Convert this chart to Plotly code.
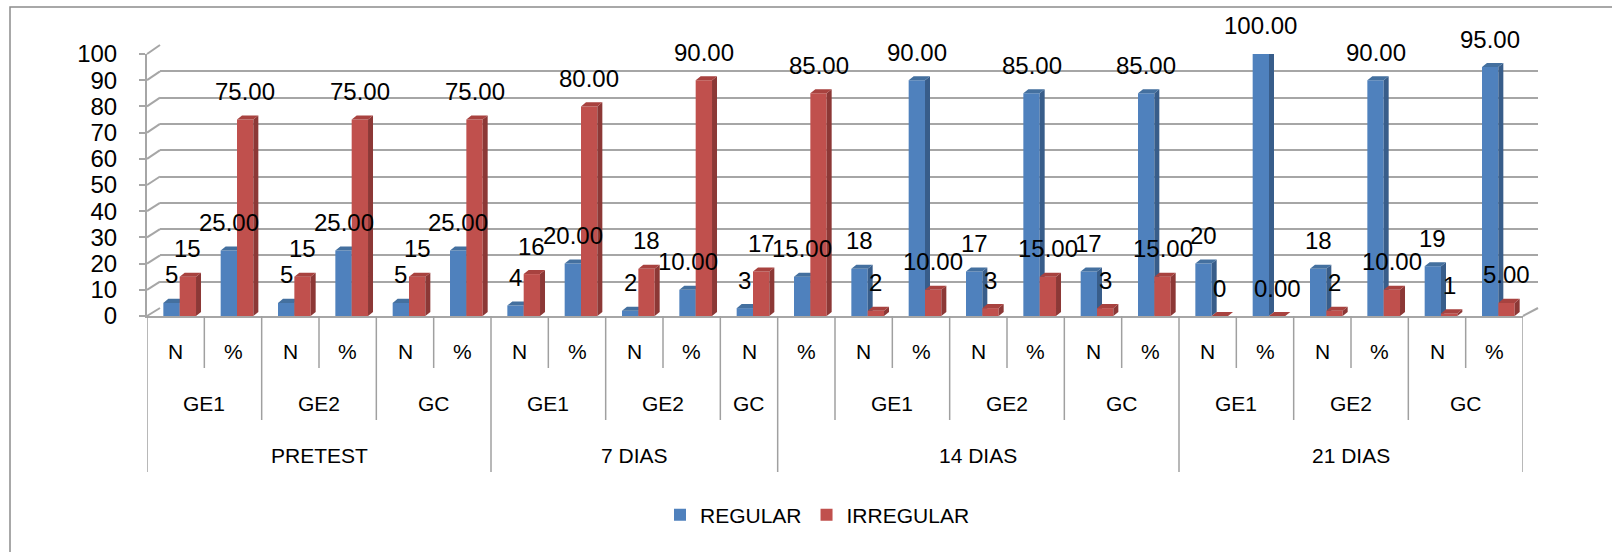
import plotly.graph_objects as go

# ---- data -------------------------------------------------------------
periods = ["PRETEST"] * 6 + ["7 DIAS"] * 5 + ["14 DIAS"] * 7 + ["21 DIAS"] * 6
groups = ["GE1", "GE1", "GE2", "GE2", "GC", "GC",
          "GE1", "GE1", "GE2", "GE2", "GC",
          "", "GE1", "GE1", "GE2", "GE2", "GC", "GC",
          "GE1", "GE1", "GE2", "GE2", "GC", "GC"]
measures = ["N", "%", "N", "%", "N", "%",
            "N", "%", "N", "%", "N",
            "%", "N", "%", "N", "%", "N", "%",
            "N", "%", "N", "%", "N", "%"]
regular = [5, 25, 5, 25, 5, 25,
           4, 20, 2, 10, 3,
           15, 18, 90, 17, 85, 17, 85,
           20, 100, 18, 90, 19, 95]
irregular = [15, 75, 15, 75, 15, 75,
             16, 80, 18, 90, 17,
             85, 2, 10, 3, 15, 3, 15,
             0, 0, 2, 10, 1, 5]
y_ticks = list(range(0, 101, 10))

# ---- geometry / style -------------------------------------------------
W, H = 1612, 552
FONT = "Liberation Sans"
GRID = "#a6a6a6"
LINE = "#a0a0a0"

BLUE, BLUE_SIDE, BLUE_TOP = "#4f81bd", "#385d8a", "#44709f"
RED, RED_SIDE, RED_TOP = "#c0504d", "#8c3836", "#a8423f"

BAR_W = 0.285
OFF_BLUE = -0.215
OFF_RED = OFF_BLUE + BAR_W
DEPTH_X = 0.087      # category units
DEPTH_Y = 1.55       # value units


def fx(px):
    return px / W


def fy(px):
    return 1 - px / H


# front (bars) and back wall (grid) domains
front_x = [fx(147), fx(1523)]
front_y = [fy(316), fy(54)]
back_x = [fx(160), fx(1538)]
back_y = [fy(308), fy(45)]

idx = list(range(len(measures)))


def label_text(v, m):
    return f"{v:.2f}" if m == "%" else f"{v:d}"


def side_faces(vals, off):
    xs, ys = [], []
    for i, v in enumerate(vals):
        xr = i + off + BAR_W
        xs += [xr, xr + DEPTH_X, xr + DEPTH_X, xr, xr, None]
        ys += [0, DEPTH_Y, v + DEPTH_Y, v, 0, None]
    return xs, ys


def top_faces(vals, off):
    xs, ys = [], []
    for i, v in enumerate(vals):
        xl = i + off
        xr = xl + BAR_W
        xs += [xl, xr, xr + DEPTH_X, xl + DEPTH_X, xl, None]
        ys += [v, v, v + DEPTH_Y, v + DEPTH_Y, v, None]
    return xs, ys


def face(xs, ys, color, yaxis):
    return go.Scatter(x=xs, y=ys, xaxis="x2", yaxis=yaxis, mode="lines",
                      fill="toself", fillcolor=color, line=dict(width=0),
                      hoverinfo="skip", showlegend=False)


fig = go.Figure()

# back wall holder (grid only)
fig.add_trace(go.Scatter(x=[0.5], y=[50], xaxis="x", yaxis="y", mode="markers",
                         marker=dict(opacity=0), hoverinfo="skip", showlegend=False))

# REGULAR prisms
fig.add_trace(go.Bar(x=idx, y=regular, xaxis="x2", yaxis="y2", name="REGULAR",
                     width=BAR_W, offset=OFF_BLUE,
                     marker=dict(color=BLUE, line=dict(width=0))))
fig.add_trace(face(*side_faces(regular, OFF_BLUE), BLUE_SIDE, "y2"))
fig.add_trace(face(*top_faces(regular, OFF_BLUE), BLUE_TOP, "y2"))

# IRREGULAR prisms (overlaid so they sit in front of the REGULAR ones)
fig.add_trace(go.Bar(x=idx, y=irregular, xaxis="x2", yaxis="y3", name="IRREGULAR",
                     width=BAR_W, offset=OFF_RED,
                     marker=dict(color=RED, line=dict(width=0))))
fig.add_trace(face(*side_faces(irregular, OFF_RED), RED_SIDE, "y3"))
fig.add_trace(face(*top_faces(irregular, OFF_RED), RED_TOP, "y3"))

annotations = []

# data labels
for i in idx:
    for vals, off in ((regular, OFF_BLUE), (irregular, OFF_RED)):
        annotations.append(dict(
            x=i + off + BAR_W / 2, y=vals[i], xref="x2", yref="y2",
            text=label_text(vals[i], measures[i]), showarrow=False,
            yshift=28, yanchor="middle", xanchor="center",
            font=dict(family=FONT, size=24, color="#000000")))

# category table: measure row
for i, m in enumerate(measures):
    annotations.append(dict(x=i, y=fy(351), xref="x2", yref="paper", text=m,
                            showarrow=False, yanchor="middle",
                            font=dict(family=FONT, size=21, color="#000000")))


def spans(keys):
    out = []
    start = 0
    for i in range(1, len(keys) + 1):
        if i == len(keys) or keys[i] != keys[start]:
            out.append((start, i - 1))
            start = i
    return out


group_keys = list(zip(periods, groups))
for a, b in spans(group_keys):
    if groups[a]:
        annotations.append(dict(x=(a + b) / 2, y=fy(403), xref="x2", yref="paper",
                                text=groups[a], showarrow=False, yanchor="middle",
                                font=dict(family=FONT, size=21, color="#000000")))
for a, b in spans(periods):
    annotations.append(dict(x=(a + b) / 2, y=fy(455), xref="x2", yref="paper",
                            text=periods[a], showarrow=False, yanchor="middle",
                            font=dict(family=FONT, size=21, color="#000000")))

shapes = []

# divider lines of the category table
n = len(measures)
for bnd in range(n + 1):
    if bnd in (0, n) or periods[bnd] != periods[bnd - 1]:
        bottom = 472
    elif groups[bnd] != groups[bnd - 1]:
        bottom = 420
    else:
        bottom = 368
    shapes.append(dict(type="line", xref="x2", yref="paper",
                       x0=bnd - 0.5, x1=bnd - 0.5, y0=front_y[0], y1=fy(bottom),
                       line=dict(color=LINE, width=1.5)))


def dom(d, v):
    return d[0] + v / 100 * (d[1] - d[0])


# side wall connectors from the value axis to the back wall
for v in y_ticks:
    shapes.append(dict(type="line", xref="paper", yref="paper",
                       x0=front_x[0], y0=dom(front_y, v),
                       x1=back_x[0], y1=dom(back_y, v),
                       line=dict(color=GRID, width=2)))
# right edge of the floor
shapes.append(dict(type="line", xref="paper", yref="paper",
                   x0=front_x[1], y0=front_y[0], x1=back_x[1], y1=back_y[0],
                   line=dict(color=GRID, width=2)))

# chart frame
shapes.append(dict(type="rect", xref="paper", yref="paper",
                   x0=fx(10), y0=-0.05, x1=1.05, y1=fy(7),
                   line=dict(color="#8c8c8c", width=1.5), layer="below"))

axis_common = dict(automargin=False, fixedrange=True)

fig.update_layout(
    template="none",
    width=W, height=H, autosize=False,
    margin=dict(l=0, r=0, t=0, b=0, pad=0, autoexpand=False),
    paper_bgcolor="white", plot_bgcolor="rgba(0,0,0,0)",
    barmode="overlay",
    hovermode=False,
    font=dict(family=FONT, color="#000000"),
    xaxis=dict(domain=back_x, range=[0, 1], visible=False, showgrid=False,
               zeroline=False, **axis_common),
    yaxis=dict(domain=back_y, range=[0, 100], tickvals=y_ticks,
               showgrid=True, gridcolor=GRID, gridwidth=2,
               showticklabels=False, ticks="", zeroline=False, showline=False,
               anchor="x", **axis_common),
    xaxis2=dict(domain=front_x, range=[-0.5, n - 0.5], anchor="y2",
                showticklabels=False, ticks="", showgrid=False, zeroline=False,
                showline=True, linecolor=GRID, linewidth=2, **axis_common),
    yaxis2=dict(domain=front_y, range=[0, 100], anchor="x2", tickvals=y_ticks,
                ticks="outside", ticklen=6, tickcolor=GRID, tickwidth=2,
                showline=True, linecolor=GRID, linewidth=2,
                showgrid=False, zeroline=False, ticklabelstandoff=17,
                tickfont=dict(family=FONT, size=24, color="#000000"),
                **axis_common),
    yaxis3=dict(overlaying="y2", range=[0, 100], anchor="x2", visible=False,
                showgrid=False, zeroline=False, **axis_common),
    legend=dict(orientation="h", x=fx(660), xanchor="left", y=fy(515),
                yanchor="middle", font=dict(family=FONT, size=21, color="#000000"),
                bgcolor="rgba(0,0,0,0)", traceorder="normal"),
    annotations=annotations,
    shapes=shapes,
)

fig.write_html("out.html")
